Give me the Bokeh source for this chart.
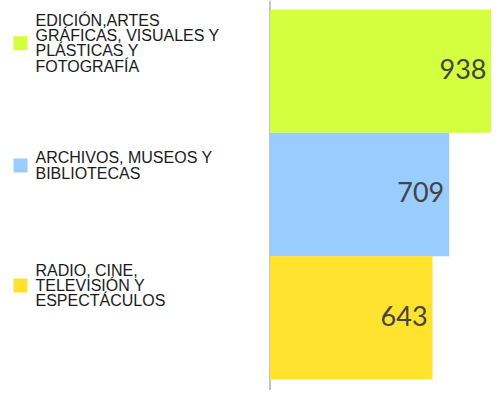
from bokeh.plotting import figure
from bokeh.models import Range1d, Span
from bokeh.core.properties import value
from bokeh.embed import file_html
from bokeh.resources import INLINE

# ---- data ----
categories = [
    "EDICIÓN,ARTES\nGRÁFICAS, VISUALES Y\nPLÁSTICAS Y\nFOTOGRAFÍA",
    "ARCHIVOS, MUSEOS Y\nBIBLIOTECAS",
    "RADIO, CINE,\nTELEVISIÓN Y\nESPECTÁCULOS",
]
values = [938, 709, 643]
colors = ["#D4FF3F", "#99CCFF", "#FFE32E"]

# ---- layout helpers (pixels) ----
W, H = 491, 390
zero_px = 269.5          # px from frame left where value 0 sits
kx = 0.2528              # px per unit on x
pitch = 123.33           # px per category
top_off = 9.0            # px gap above first bar

x_start = -zero_px / kx
x_end = (W - zero_px) / kx
y_top = -0.5 - top_off / pitch
y_bot = y_top + H / pitch

def px_x(px):
    return (px - zero_px) / kx

def px_y(py):
    return y_top + py / pitch

p = figure(width=W, height=H, output_backend="svg", toolbar_location=None,
           x_range=Range1d(x_start, x_end), y_range=Range1d(y_bot, y_top),
           min_border=0)
p.xaxis.visible = False
p.yaxis.visible = False
p.grid.visible = False
p.outline_line_color = None
p.background_fill_color = "white"

idx = list(range(len(values)))
p.hbar(y=idx, left=0, right=values, height=1, fill_color=colors, line_color=None)

# value labels: keep inside the visible frame
label_x = [min(v, x_end) for v in values]
p.text(x=label_x, y=idx, text=[str(v) for v in values], text_align="right",
       text_baseline="middle", x_offset=-5, y_offset=-2,
       text_font=value("Lato"), text_font_size="27px", text_color="#444444")

p.add_layout(Span(location=0, dimension="height", line_color="#888888",
                  line_width=1, level="underlay"))

# legend
leg_centers_px = [42.7, 165, 285]
leg_y = [px_y(c) for c in leg_centers_px]
p.scatter(x=[px_x(20)] * 3, y=leg_y, marker="square", size=14,
          fill_color=colors, line_color=None)
p.text(x=[px_x(35)] * 3, y=leg_y, text=categories, text_align="left",
       text_baseline="middle", text_font=value("Liberation Sans"),
       text_font_size="16px", text_line_height=0.9, text_color="#1a1a1a")

open("out.html", "w").write(file_html(p, INLINE))
